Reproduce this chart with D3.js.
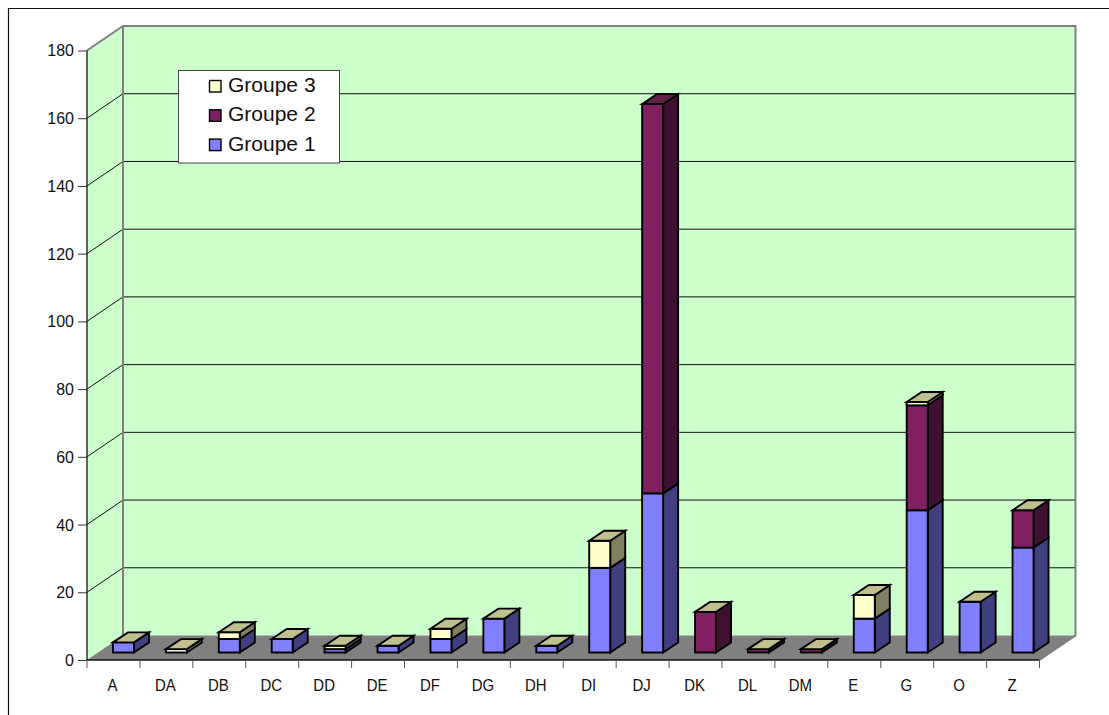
<!DOCTYPE html>
<html><head><meta charset="utf-8">
<style>html,body{margin:0;padding:0;background:#fff}svg{display:block}text{font-family:"Liberation Sans",Arial,sans-serif;fill:#111}</style>
<script src="https://d3js.org/d3.v7.min.js"></script></head>
<body><svg id="c" width="1109" height="715"></svg>
<script>
const categories=["A","DA","DB","DC","DD","DE","DF","DG","DH","DI","DJ","DK","DL","DM","E","G","O","Z"];
const groupe1=[3,0,4,4,1,2,4,10,2,25,47,0,0,0,10,42,15,31];
const groupe2=[0,0,0,0,0,0,0,0,0,0,115,12,1,1,0,31,0,11];
const groupe3=[0,1,2,0,1,0,3,0,0,8,null,0,0,0,7,1,0,0];
const seriesNames=["Groupe 1","Groupe 2","Groupe 3"];
const yTicks=[0,20,40,60,80,100,120,140,160,180];
const frontColors=["#8080ff","#802060","#ffffcc"];
const sideColors=["#404080","#401030","#808060"];
const topColors=["#5f5fbf","#602048","#bfbf90"];

const svg=d3.select("#c");
const line=d3.line();
const x=d3.scaleBand().domain(categories).range([87,1039.5]);
const y=d3.scaleLinear().domain([0,180]).range([660,50.5]);
const wallDx=36,wallDy=-24.5,barW=21,barDx=15,barDy=-10,offX=10,offY=-7.5;
const L=87,R=1039.5,B=y(0),T=y(180);

// squeeze a text horizontally so it keeps the reference's width at a taller size
function squeeze(sel,ratio){sel.each(function(){this.setAttribute("textLength",this.getComputedTextLength()*ratio);this.setAttribute("lengthAdjust","spacingAndGlyphs");});}

// outer frame
svg.append("path").attr("d","M1109,8.5H8.5V715").attr("fill","none").attr("stroke","#111").attr("stroke-width",1.2);
// walls
svg.append("path").attr("d",line([[L,T],[L+wallDx,T+wallDy],[R+wallDx,T+wallDy],[R+wallDx,B+wallDy],[L+wallDx,B+wallDy],[L,B]])+"Z").attr("fill","#ccffcc");
// floor
svg.append("path").attr("d",line([[L,B],[L+wallDx,B+wallDy],[R+wallDx,B+wallDy],[R,B]])+"Z").attr("fill","#808080");
// gridlines
yTicks.filter(v=>v>0&&v<180).forEach(v=>{
  svg.append("path").attr("d",line([[L,y(v)],[L+wallDx,y(v)+wallDy],[R+wallDx,y(v)+wallDy]])).attr("fill","none").attr("stroke","#111").attr("stroke-width",1);
});
// wall edges
svg.append("path").attr("d",line([[L,T],[L+wallDx,T+wallDy],[R+wallDx,T+wallDy],[R+wallDx,B+wallDy],[R,B]])).attr("fill","none").attr("stroke","#808080").attr("stroke-width",2);
svg.append("path").attr("d",line([[L+wallDx,T+wallDy],[L+wallDx,B+wallDy]])).attr("fill","none").attr("stroke","#808080").attr("stroke-width",2);

// bars
const rows=categories.map((c,i)=>({c,vals:[groupe1[i],groupe2[i],groupe3[i]]}));
rows.forEach(r=>{
  const x0=x(r.c)+x.bandwidth()/2-barW/2+offX,x1=x0+barW;
  const g=svg.append("g").attr("stroke","#000").attr("stroke-width",1.9).attr("stroke-linejoin","miter");
  let cum=0,lastIdx=0;
  r.vals.forEach((v,k)=>{
    if(v===null)return;
    lastIdx=k;
    const ya=y(cum)+offY,yb=y(cum+v)+offY;
    cum+=v;
    if(v===0)return;
    g.append("path").attr("d",line([[x1,ya],[x1+barDx,ya+barDy],[x1+barDx,yb+barDy],[x1,yb]])+"Z").attr("fill",sideColors[k]);
    g.append("rect").attr("x",x0).attr("y",yb).attr("width",barW).attr("height",ya-yb).attr("fill",frontColors[k]);
  });
  const yt=y(cum)+offY;
  g.append("path").attr("d",line([[x0,yt],[x0+barDx,yt+barDy],[x1+barDx,yt+barDy],[x1,yt]])+"Z").attr("fill",topColors[lastIdx]);
});

// axes
const ay=svg.append("g").attr("transform",`translate(${L},0)`).call(d3.axisLeft(y).tickValues(yTicks).tickSize(9).tickPadding(4));
ay.select(".domain").attr("stroke","#111").attr("stroke-width",1.3).attr("d",`M0,${T}V${B}`);
ay.selectAll(".tick line").attr("stroke","#333").attr("stroke-width",1);
ay.selectAll("text").attr("font-size",17).style("fill","#111").call(squeeze,0.94);
const ax=svg.append("g").attr("transform",`translate(0,${B})`).call(d3.axisBottom(x).tickSize(0).tickPadding(17));
ax.select(".domain").attr("stroke","#111").attr("stroke-width",1.3).attr("d",`M${L},0H${R}`);
ax.selectAll("text").attr("font-size",17).style("fill","#111").attr("dx",-1).attr("dy","0.8em").call(squeeze,0.88);
ax.selectAll(".tk").data(categories.concat(["_end"])).enter().append("line").attr("class","tk")
  .attr("x1",(d,i)=>L+i*x.step()).attr("x2",(d,i)=>L+i*x.step()).attr("y1",0).attr("y2",8).attr("stroke","#555").attr("stroke-width",1);

// legend
const lg=svg.append("g").attr("transform","translate(178.5,70.5)");
lg.append("rect").attr("x",0).attr("y",0).attr("width",161).attr("height",92.5).attr("fill","#fff").attr("stroke","#444").attr("stroke-width",1);
[2,1,0].forEach((k,i)=>{
  lg.append("rect").attr("x",31).attr("y",10+i*29.3).attr("width",11.5).attr("height",11.5).attr("fill",frontColors[k]).attr("stroke","#000").attr("stroke-width",1.4);
  lg.append("text").attr("x",49.5).attr("y",21.2+i*29.5).attr("font-size",21).text(seriesNames[k]);
});
</script></body></html>
